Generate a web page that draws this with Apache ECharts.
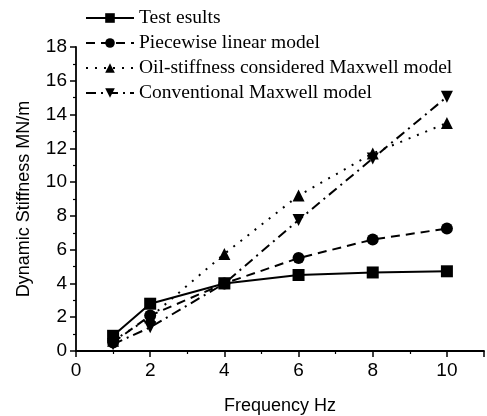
<!DOCTYPE html>
<html>
<head>
<meta charset="utf-8">
<script src="https://cdn.jsdelivr.net/npm/echarts@6/dist/echarts.min.js"></script>
<style>
  html, body { margin: 0; padding: 0; background: #fff; }
  #chart { width: 487px; height: 416px; }
</style>
</head>
<body>
<div id="chart"></div>
<script>
const freq = [1, 2, 4, 6, 8, 10];
const testResults = [0.9, 2.8, 4.0, 4.5, 4.65, 4.72];
const piecewise = [0.5, 2.1, 4.0, 5.5, 6.6, 7.25];
const oilMaxwell = [0.6, 2.0, 5.75, 9.2, 11.7, 13.5];
const convMaxwell = [0.4, 1.4, 4.0, 7.75, 11.4, 15.05];
const seriesNames = [
  'Test esults',
  'Piecewise linear model',
  'Oil-stiffness considered Maxwell model',
  'Conventional Maxwell model'
];

const pairs = vals => freq.map((f, i) => [f, vals[i]]);

const chart = echarts.init(document.getElementById('chart'));

function line(name, vals, symbol, dash, rotate) {
  return {
    name: name,
    type: 'line',
    data: pairs(vals),
    symbol: symbol,
    symbolSize: 12,
    symbolRotate: rotate || 0,
    itemStyle: { color: '#000' },
    lineStyle: { color: '#000', width: 2, type: dash },
    animation: false
  };
}

chart.setOption({
  grid: { left: 76, right: 3, top: 47, bottom: 65, outerBoundsMode: 'none' },
  legend: {
    orient: 'vertical',
    left: 85,
    top: 8,
    padding: 0,
    itemWidth: 48,
    itemHeight: 12,
    itemGap: 5,
    textStyle: { fontFamily: 'Liberation Serif', fontSize: 19.5, color: '#000' },
    data: seriesNames
  },
  xAxis: {
    type: 'value',
    min: 0, max: 11, interval: 2,
    name: 'Frequency Hz',
    nameLocation: 'middle',
    nameGap: 46,
    nameTextStyle: { fontFamily: 'Liberation Sans', fontSize: 18, color: '#000' },
    axisLine: { lineStyle: { color: '#000', width: 1.8 } },
    axisTick: { inside: false, length: 6, lineStyle: { color: '#000', width: 1.5 } },
    minorTick: { show: true, splitNumber: 2, length: 3, lineStyle: { color: '#000', width: 1.2 } },
    axisLabel: { fontFamily: 'Liberation Sans', fontSize: 19, color: '#000', margin: 10,
      formatter: v => (v <= 10 ? v : '') },
    splitLine: { show: false }
  },
  yAxis: {
    type: 'value',
    min: 0, max: 18, interval: 2,
    name: 'Dynamic Stiffness MN/m',
    nameLocation: 'middle',
    nameGap: 43,
    nameTextStyle: { fontFamily: 'Liberation Sans', fontSize: 18, color: '#000' },
    axisLine: { show: true, lineStyle: { color: '#000', width: 1.8 } },
    axisTick: { show: true, inside: false, length: 6, lineStyle: { color: '#000', width: 1.5 } },
    minorTick: { show: true, splitNumber: 2, length: 3, lineStyle: { color: '#000', width: 1.2 } },
    axisLabel: { fontFamily: 'Liberation Sans', fontSize: 19, color: '#000', margin: 9 },
    splitLine: { show: false }
  },
  series: [
    line(seriesNames[0], testResults, 'rect', 'solid'),
    line(seriesNames[1], piecewise, 'circle', [9, 6]),
    line(seriesNames[2], oilMaxwell, 'triangle', [2, 7]),
    line(seriesNames[3], convMaxwell, 'triangle', [10, 5, 2, 5], 180)
  ]
});
</script>
</body>
</html>
